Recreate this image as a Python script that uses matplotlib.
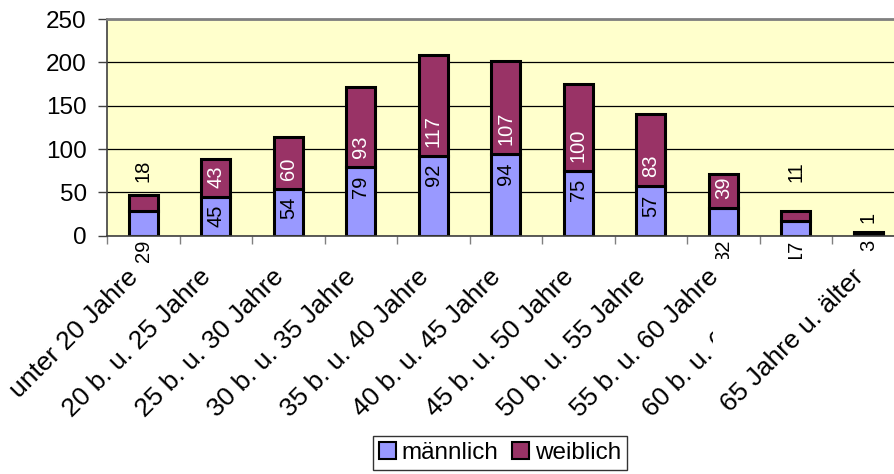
import numpy as np
import matplotlib
matplotlib.use("Agg")
import matplotlib.pyplot as plt
from matplotlib.patches import Patch
from matplotlib.transforms import Bbox, TransformedBbox

plt.rcParams['font.family'] = ['Liberation Sans', 'DejaVu Sans']

# Data
categories = ["unter 20 Jahre", "20 b. u. 25 Jahre", "25 b. u. 30 Jahre",
              "30 b. u. 35 Jahre", "35 b. u. 40 Jahre", "40 b. u. 45 Jahre",
              "45 b. u. 50 Jahre", "50 b. u. 55 Jahre", "55 b. u. 60 Jahre",
              "60 b. u. 65 Jahre", "65 Jahre u. älter"]
maennlich = [29, 45, 54, 79, 92, 94, 75, 57, 32, 17, 3]
weiblich = [18, 43, 60, 93, 117, 107, 100, 83, 39, 11, 1]

c_m = '#9999FF'
c_w = '#993366'
bg = '#FFFFCC'

fig = plt.figure(figsize=(8.95, 4.74), dpi=100)
# plot area runs past the right edge of the image, like the original
ax = fig.add_axes([107/895, 1 - 235.7/474, (904.6 - 107)/895, (235.7 - 19)/474])
ax.set_facecolor(bg)

x = np.arange(len(categories))
w = 0.4
ax.bar(x, maennlich, w, color=c_m, edgecolor='black', linewidth=2.2, zorder=3)
ax.bar(x, weiblich, w, bottom=maennlich, color=c_w, edgecolor='black', linewidth=2.2, zorder=3)

ax.set_xlim(-0.5, len(categories) - 0.5)
ax.set_ylim(0, 250)
ax.set_yticks(np.arange(0, 251, 50))
ax.yaxis.grid(True, color='black', linewidth=0.9, zorder=1)
ax.set_axisbelow(True)

for s in ['right', 'bottom']:
    ax.spines[s].set_visible(False)
ax.spines['top'].set_color('#808080')
ax.spines['top'].set_linewidth(2)
ax.spines['left'].set_color('#404040')
ax.spines['left'].set_linewidth(1.2)
ax.axhline(0, color='#404040', linewidth=1.2, zorder=4, clip_on=False)

ax.tick_params(axis='y', labelsize=17.5, length=6.5, width=1, color='#404040', pad=8)
ax.set_xticks(np.arange(-0.5, len(categories), 1.0))
ax.set_xticklabels([])
ax.tick_params(axis='x', which='major', length=5.5, width=1, color='#808080')
# category labels sit a bit left of the bar centres
ax.set_xticks(x - 0.12, categories, minor=True)
ax.tick_params(axis='x', which='minor', length=0, labelsize=19, pad=27)
for lab in ax.get_xticklabels(minor=True):
    lab.set_rotation(45)
    lab.set_ha('right')
    lab.set_va('center')
    lab.set_rotation_mode('anchor')

# the "60 b. u. 65" label is cut off in the original
clip_left = TransformedBbox(Bbox([[0, 0], [713/895, 1]]), fig.transFigure)
lab9 = ax.get_xticklabels(minor=True)[9]
lab9.set_clip_box(clip_left)
lab9.set_clip_on(True)
clip_low = TransformedBbox(Bbox([[0, 1 - 259/474], [1, 1]]), fig.transFigure)

# data labels
fs = 14.5
extra_w = {0: 13, 9: 29, 10: 9}   # offsets (px) of labels above small bars
for i in range(len(categories)):
    m, f = maennlich[i], weiblich[i]
    if m >= 35:
        ax.annotate(str(m), (i, m), xytext=(0, -8), textcoords='offset pixels',
                    rotation=90, ha='center', va='top', fontsize=fs, color='black', zorder=5)
    else:
        t = ax.annotate(str(m), (i, 0), xytext=(0, -4), textcoords='offset pixels',
                        rotation=90, ha='center', va='top', fontsize=fs, color='black',
                        annotation_clip=False, zorder=5)
        if i in (8, 9):
            t.set_clip_box(clip_low)
            t.set_clip_on(True)
    if f >= 35:
        ax.annotate(str(f), (i, m), xytext=(0, 9), textcoords='offset pixels',
                    rotation=90, ha='center', va='bottom', fontsize=fs, color='white', zorder=5)
    else:
        ax.annotate(str(f), (i, m + f), xytext=(0, extra_w.get(i, 10)), textcoords='offset pixels',
                    rotation=90, ha='center', va='bottom', fontsize=fs, color='black', zorder=5)

handles = [Patch(facecolor=c_m, edgecolor='black', linewidth=1.5, label='männlich'),
           Patch(facecolor=c_w, edgecolor='black', linewidth=1.5, label='weiblich')]
leg = fig.legend(handles=handles, loc='upper center', bbox_to_anchor=(500/895, 1 - 436/474),
                 ncol=2, frameon=True, fancybox=False, edgecolor='black', fontsize=17.5,
                 handlelength=0.7, handleheight=0.7, handletextpad=0.25, columnspacing=0.55,
                 borderpad=0.25, borderaxespad=0)
leg.get_frame().set_linewidth(1)

fig.savefig('out.png', dpi=100)
